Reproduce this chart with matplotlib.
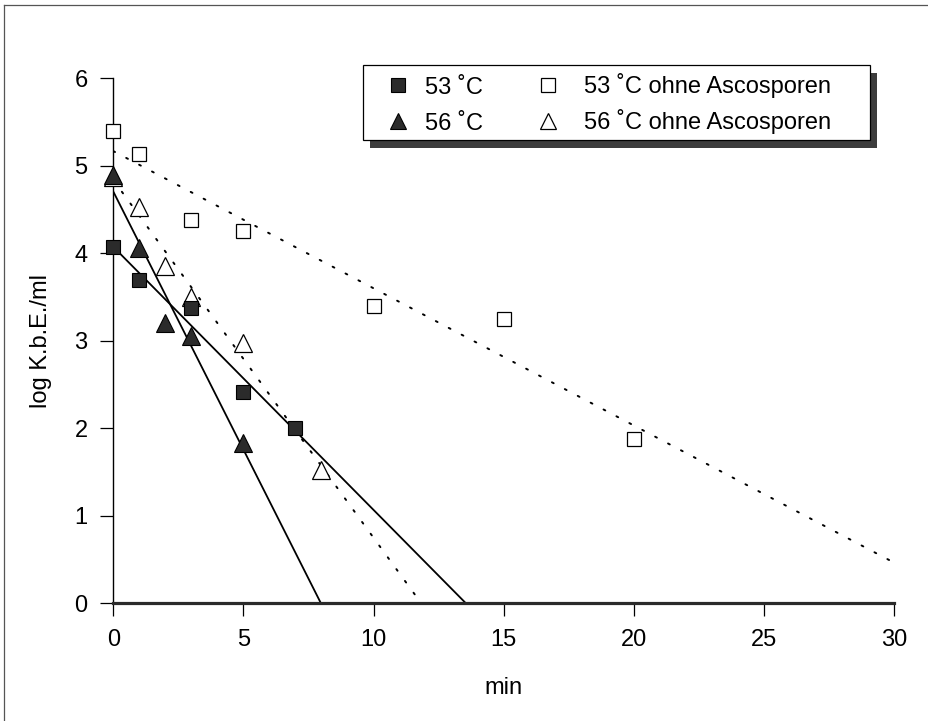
import numpy as np
import matplotlib
matplotlib.use("Agg")
import matplotlib.pyplot as plt
from matplotlib.lines import Line2D
from matplotlib.patches import Rectangle

plt.rcParams['font.family'] = ['Liberation Sans', 'DejaVu Sans']

# Survival data: log colony-forming units per ml over heating time (min)
time_53 = [0, 1, 3, 5, 7]
log_53 = [4.07, 3.69, 3.38, 2.42, 2.00]

time_56 = [0, 1, 2, 3, 5]
log_56 = [4.90, 4.06, 3.20, 3.05, 1.83]

time_53_ohne = [0, 1, 3, 5, 10, 15, 20]
log_53_ohne = [5.40, 5.14, 4.38, 4.26, 3.40, 3.25, 1.88]

time_56_ohne = [0, 1, 2, 3, 5, 8]
log_56_ohne = [4.87, 4.53, 3.86, 3.50, 2.98, 1.52]

series_labels = ["53 \u02daC", "56 \u02daC",
                 "53 \u02daC ohne Ascosporen", "56 \u02daC ohne Ascosporen"]

x_ticks = [0, 5, 10, 15, 20, 25, 30]
y_ticks = [0, 1, 2, 3, 4, 5, 6]

W, H = 929, 721
fig = plt.figure(figsize=(W / 100, H / 100), dpi=100)
ax = fig.add_axes([113.3 / W, 1 - 603.3 / H, (894 - 113.3) / W, (603.3 - 78.3) / H])

dark = '#2b2b2b'
styles = [
    dict(marker='s', ms=10.5, mfc=dark, mec='black', mew=0.8),
    dict(marker='^', ms=12.5, mfc=dark, mec='black', mew=0.8),
    dict(marker='s', ms=10.5, mfc='white', mec='black', mew=0.9),
    dict(marker='^', ms=12.5, mfc='white', mec='black', mew=0.9),
]
line_styles = [
    dict(ls='-', lw=1.3, color='black'),
    dict(ls='-', lw=1.3, color='black'),
    dict(ls=(0, (1, 6.5)), lw=1.4, color='black'),
    dict(ls=(0, (1, 6.5)), lw=1.4, color='black'),
]
data = [(time_53, log_53), (time_56, log_56),
        (time_53_ohne, log_53_ohne), (time_56_ohne, log_56_ohne)]

xmax = 30
for (t, y), lst in zip(data, line_styles):
    slope, icpt = np.polyfit(t, y, 1)
    x_end = min(xmax, -icpt / slope)
    xs = np.array([0.0, x_end])
    ax.plot(xs, icpt + slope * xs, zorder=2, solid_capstyle='butt',
            dash_capstyle='round', **lst)

# open symbols first so the filled ones sit on top where they overlap
for idx in [2, 3, 0, 1]:
    t, y = data[idx]
    ax.plot(t, y, ls='none', zorder=3, clip_on=False, **styles[idx])

ax.set_xlim(0, 30)
ax.set_ylim(0, 6)
ax.set_xticks(x_ticks)
ax.set_yticks(y_ticks)
for s in ['top', 'right']:
    ax.spines[s].set_visible(False)
ax.spines['bottom'].set_linewidth(2.3)
ax.spines['bottom'].set_color('#2a2a2a')
ax.spines['left'].set_linewidth(1.0)
ax.tick_params(axis='both', direction='out', length=9.5, width=0.9,
               labelsize=17, pad=9)

ax.set_ylabel("log K.b.E./ml", fontsize=17)
ax.yaxis.set_label_coords(-0.092, 0.5)
ax.set_xlabel("min", fontsize=17)
ax.xaxis.set_label_coords(0.5, -0.161)
ax.xaxis.label.set_va('center')
ax.yaxis.label.set_va('center')

# figure frame: top and left rules
tf = fig.transFigure
fig.add_artist(Line2D([4 / W, 4 / W], [0, 1 - 5 / H], transform=tf,
                      color='#555555', lw=0.9))
fig.add_artist(Line2D([4 / W, 1], [1 - 5 / H, 1 - 5 / H], transform=tf,
                      color='#555555', lw=0.9))

# legend box with drop shadow
bx0, by0, bx1, by1 = 362.7, 65, 870, 140
fig.add_artist(Rectangle(((bx0 + 7) / W, 1 - (by1 + 8) / H), (bx1 - bx0) / W,
                         (by1 - by0) / H, transform=tf, fc='#3c3c3c', ec='none',
                         zorder=5))
fig.add_artist(Rectangle((bx0 / W, 1 - by1 / H), (bx1 - bx0) / W, (by1 - by0) / H,
                         transform=tf, fc='white', ec='black', lw=0.9, zorder=6))

entry_pos = [(398, 425, 85), (398, 425, 121), (548, 584, 85), (548, 584, 121)]
for (mx, tx, yc), lab, st in zip(entry_pos, series_labels, styles):
    st2 = dict(st)
    st2['ms'] = st['ms'] * 0.95
    fig.add_artist(Line2D([mx / W], [1 - yc / H], transform=tf, ls='none',
                          zorder=7, **st2))
    fig.text(tx / W, 1 - (yc + 8.5) / H, lab, fontsize=17, va='baseline',
             ha='left', zorder=7)

fig.savefig("out.png", dpi=100, facecolor='white')
